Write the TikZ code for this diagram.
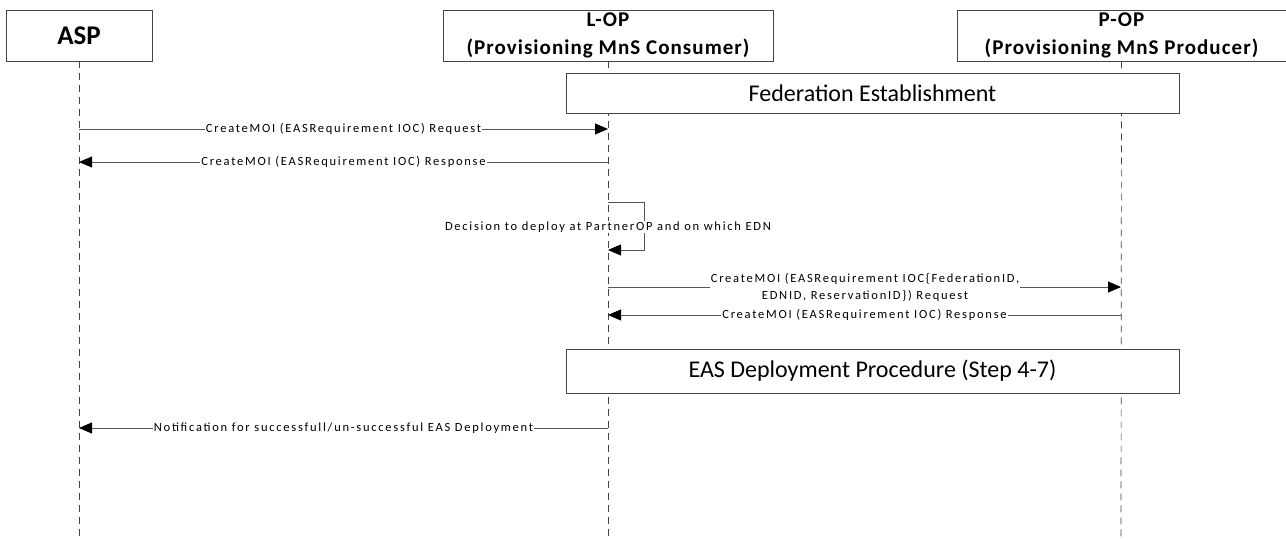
\documentclass[tikz,border=0pt]{standalone}
\usepackage{fontspec}
\setmainfont{Carlito}
\newfontfamily\msgfont[LetterSpace=14]{Carlito}
\newfontfamily\actfont[LetterSpace=5]{Carlito}
\usetikzlibrary{arrows.meta}
\definecolor{linec}{HTML}{555555}
\definecolor{boxc}{HTML}{444444}
\begin{document}
\begin{tikzpicture}[x=1pt,y=-1pt,
  actor/.style={draw=boxc, fill=white, line width=0.9pt, inner sep=0pt, align=center,
    font=\actfont\fontsize{21}{28}\selectfont\bfseries},
  phase/.style={draw=boxc, fill=white, line width=0.9pt, inner sep=0pt,
    font=\fontsize{24}{28}\selectfont},
  life/.style={draw=boxc, line width=0.7pt, dash pattern=on 7pt off 5pt},
  msg/.style={draw=linec, line width=0.8pt, -{Triangle[length=13pt,width=11pt,color=black]}},
  lbl/.style={fill=white, inner sep=1pt, align=center, font=\msgfont\fontsize{12.5}{17}\selectfont}]
\useasboundingbox (0,0) rectangle (1286,540);
% lifelines
\coordinate (aspEnd) at (79,540);
\coordinate (lopEnd) at (608,540);
\coordinate (popEnd) at (1121,540);
\node[actor, minimum width=146pt, minimum height=51pt, font=\fontsize{27}{30}\selectfont\bfseries] (asp) at (79,35.5) {ASP};
\node[actor, minimum width=330pt, minimum height=51pt] (lop) at (608,35.5) {L-OP\\(Provisioning MnS Consumer)};
\node[actor, minimum width=329pt, minimum height=51pt] (pop) at (1121.5,35.5) {P-OP\\(Provisioning MnS Producer)};
\draw[life] (asp.south) -- (aspEnd);
\draw[life] (lop.south) -- (lopEnd);
\draw[life] (pop.south) -- (popEnd);
% phase boxes
\node[phase, minimum width=613pt, minimum height=40pt] (fed) at (872.5,93) {Federation Establishment};
\node[phase, minimum width=613pt, minimum height=44pt] (eas) at (872.5,371) {EAS Deployment Procedure (Step 4-7)};
% message anchors
\coordinate (a1) at (79,129);   \coordinate (l1) at (608,129);
\coordinate (a2) at (79,162);   \coordinate (l2) at (608,162);
\coordinate (l3) at (608,202);  \coordinate (s3a) at (644,202);
\coordinate (s3b) at (644,250); \coordinate (l3b) at (608,250);
\coordinate (l4) at (608,287);  \coordinate (p4) at (1121,287);
\coordinate (l5) at (608,315);  \coordinate (p5) at (1121,315);
\coordinate (a6) at (79,428);   \coordinate (l6) at (608,428);
% messages
\draw[msg] (a1) -- (l1) node[lbl, pos=0.5] {CreateMOI (EASRequirement IOC) Request};
\draw[msg] (l2) -- (a2) node[lbl, pos=0.5] {CreateMOI (EASRequirement IOC) Response};
\draw[msg] (l3) -- (s3a) -- (s3b) -- (l3b);
\node[lbl] (dec) at (608,227) {Decision to deploy at PartnerOP and on which EDN};
\draw[msg] (l4) -- (p4);
\node[lbl, anchor=north] (req4) at (865,272) {CreateMOI (EASRequirement IOC\{FederationID,\\EDNID, ReservationID\}) Request};
\draw[msg] (p5) -- (l5) node[lbl, pos=0.5] {CreateMOI (EASRequirement IOC) Response};
\draw[msg] (l6) -- (a6) node[lbl, pos=0.5] {Notification for successfull/un-successful EAS Deployment};
\end{tikzpicture}
\end{document}
